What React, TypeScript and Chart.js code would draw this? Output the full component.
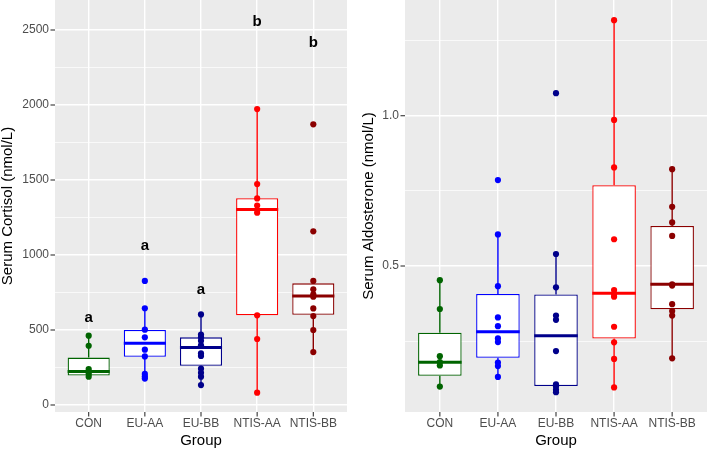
import React, { useEffect, useRef } from "react";
import { Chart, registerables } from "chart.js";

Chart.register(...registerables);

// ---------- data ----------
const groups = ["CON", "EU-AA", "EU-BB", "NTIS-AA", "NTIS-BB"];
const groupColors = ["#006400", "#0000FF", "#00008B", "#FF0000", "#8B0000"];

// Serum cortisol (nmol/L)
const cortisolPoints = [
  [462, 395, 240, 222, 207, 189],
  [827, 645, 502, 451, 369, 324, 207, 190, 176],
  [604, 470, 452, 428, 398, 344, 327, 242, 215, 189, 133],
  [1973, 1473, 1377, 1330, 1282, 598, 440, 82],
  [1871, 1158, 827, 771, 738, 722, 644, 593, 500, 353],
];
const cortisolQ1 = [196, 322, 262, 598, 602];
const cortisolMedian = [224, 411, 384, 1304, 727];
const cortisolQ3 = [316, 500, 451, 1378, 811];
const cortisolWhiskerLow = [187, 176, 133, 82, 353];
const cortisolWhiskerHigh = [462, 645, 604, 1973, 827];
const cortisolLetters = ["a", "a", "a", "b", "b"];
const cortisolLetterY = [555, 1033, 740, 2527, 2389];
const cortisolMajorTicks = [0, 500, 1000, 1500, 2000, 2500];
const cortisolMinorTicks = [250, 750, 1250, 1750, 2250];

// Serum aldosterone (nmol/L)
const aldoPoints = [
  [0.453, 0.357, 0.2, 0.18, 0.169, 0.099],
  [0.786, 0.605, 0.433, 0.329, 0.3, 0.259, 0.247, 0.179, 0.167, 0.131],
  [1.075, 0.54, 0.429, 0.335, 0.321, 0.217, 0.106, 0.099, 0.088, 0.08],
  [1.318, 0.986, 0.828, 0.589, 0.42, 0.407, 0.398, 0.298, 0.246, 0.191, 0.096],
  [0.822, 0.697, 0.645, 0.6, 0.439, 0.435, 0.373, 0.35, 0.335, 0.193],
];
const aldoQ1 = [0.135, 0.195, 0.101, 0.259, 0.356];
const aldoMedian = [0.18, 0.281, 0.268, 0.409, 0.439];
const aldoQ3 = [0.278, 0.407, 0.405, 0.769, 0.633];
const aldoWhiskerLow = [0.099, 0.131, 0.08, 0.096, 0.193];
const aldoWhiskerHigh = [0.453, 0.605, 0.54, 1.318, 0.822];
const aldoMajorTicks = [0.5, 1.0];
const aldoMajorLabels = ["0.5", "1.0"];
const aldoMinorTicks = [0.25, 0.75, 1.25];

const FONT = "'Liberation Sans', Arial, Helvetica, sans-serif";

type PanelProps = {
  width: number;
  height: number;
  points: number[][];
  q1: number[];
  median: number[];
  q3: number[];
  wLow: number[];
  wHigh: number[];
  yMin: number;
  yMax: number;
  majors: number[];
  majorLabels: string[];
  minors: number[];
  yTitle: string;
  yAxisWidth: number;
  yTitlePad: number;
  padRight: number;
  letters?: string[];
  letterY?: number[];
};

function Panel(p: PanelProps) {
  const ref = useRef<HTMLCanvasElement | null>(null);
  useEffect(() => {
    const canvas = ref.current;
    if (!canvas) return;

    const isMajor = (v: number) => p.majors.some((m) => Math.abs(m - v) < 1e-9);
    const labelFor = (v: number) => {
      const k = p.majors.findIndex((m) => Math.abs(m - v) < 1e-9);
      return k >= 0 ? p.majorLabels[k] : "";
    };

    const extras = {
      id: "boxExtras",
      beforeDraw(chart: any) {
        const { ctx, chartArea: a } = chart;
        ctx.save();
        ctx.fillStyle = "#EBEBEB";
        ctx.fillRect(a.left, a.top, a.right - a.left, a.bottom - a.top);
        ctx.restore();
      },
      beforeDatasetsDraw(chart: any) {
        const { ctx } = chart;
        const xs = chart.scales.x;
        const ys = chart.scales.y;
        ctx.save();
        ctx.lineWidth = 1.4;
        groups.forEach((_, i) => {
          const x = xs.getPixelForValue(i);
          ctx.strokeStyle = groupColors[i];
          ctx.beginPath();
          ctx.moveTo(x, ys.getPixelForValue(p.q3[i]));
          ctx.lineTo(x, ys.getPixelForValue(p.wHigh[i]));
          ctx.moveTo(x, ys.getPixelForValue(p.q1[i]));
          ctx.lineTo(x, ys.getPixelForValue(p.wLow[i]));
          ctx.stroke();
        });
        ctx.restore();
      },
      afterDatasetDraw(chart: any, args: any) {
        if (args.index !== 0) return;
        const { ctx } = chart;
        const xs = chart.scales.x;
        const ys = chart.scales.y;
        const meta = chart.getDatasetMeta(0);
        ctx.save();
        ctx.lineWidth = 3;
        groups.forEach((_, i) => {
          const x = xs.getPixelForValue(i);
          const el = meta.data[i];
          const hw = el ? el.width / 2 : 20;
          const y = ys.getPixelForValue(p.median[i]);
          ctx.strokeStyle = groupColors[i];
          ctx.beginPath();
          ctx.moveTo(x - hw, y);
          ctx.lineTo(x + hw, y);
          ctx.stroke();
        });
        ctx.restore();
      },
      afterDraw(chart: any) {
        const { ctx, chartArea: a } = chart;
        const xs = chart.scales.x;
        const ys = chart.scales.y;
        ctx.save();
        ctx.strokeStyle = "#333333";
        ctx.lineWidth = 1.1;
        p.majors.forEach((v) => {
          const y = ys.getPixelForValue(v);
          ctx.beginPath();
          ctx.moveTo(a.left - 4.5, y);
          ctx.lineTo(a.left, y);
          ctx.stroke();
        });
        groups.forEach((_, i) => {
          const x = xs.getPixelForValue(i);
          ctx.beginPath();
          ctx.moveTo(x, a.bottom);
          ctx.lineTo(x, a.bottom + 4.5);
          ctx.stroke();
        });
        if (p.letters && p.letterY) {
          ctx.fillStyle = "#000000";
          ctx.font = `bold 15px ${FONT}`;
          ctx.textAlign = "center";
          ctx.textBaseline = "alphabetic";
          p.letters.forEach((l, i) => {
            ctx.fillText(l, xs.getPixelForValue(i), ys.getPixelForValue(p.letterY![i]));
          });
        }
        ctx.restore();
      },
    };

    const datasets: any[] = [
      {
        type: "bar",
        data: groups.map((_, i) => ({ x: i, y: [p.q1[i], p.q3[i]] })),
        backgroundColor: "#FFFFFF",
        borderColor: groupColors,
        borderWidth: 1.3,
        borderSkipped: false,
        categoryPercentage: 0.75,
        barPercentage: 1,
        order: 2,
      },
      ...p.points.map((vals, i) => ({
        type: "scatter",
        data: vals.map((v) => ({ x: i, y: v })),
        backgroundColor: groupColors[i],
        borderColor: groupColors[i],
        pointRadius: 3.1,
        pointBorderWidth: 0,
        showLine: false,
        clip: false,
        order: 1,
      })),
    ];

    const yTicks = [...p.majors, ...p.minors].sort((a, b) => a - b);

    const chart = new Chart(canvas, {
      type: "bar",
      data: { datasets },
      plugins: [extras],
      options: {
        responsive: false,
        animation: false,
        events: [],
        layout: { autoPadding: false, padding: { left: 0, right: p.padRight, top: 0, bottom: 0 } },
        plugins: { legend: { display: false }, tooltip: { enabled: false } },
        scales: {
          x: {
            type: "linear",
            min: -0.6,
            max: 4.6,
            offset: false,
            afterBuildTicks: (s: any) => {
              s.ticks = groups.map((_, i) => ({ value: i }));
            },
            afterFit: (s: any) => {
              s.height = 39;
              s.paddingLeft = 0;
              s.paddingRight = 0;
            },
            grid: { color: "#FFFFFF", lineWidth: 1.4, drawTicks: false, offset: false },
            border: { display: false },
            ticks: {
              autoSkip: false,
              maxRotation: 0,
              padding: 4,
              color: "#4D4D4D",
              font: { family: FONT, size: 12 },
              callback: (v: any) => {
                const n = Math.round(Number(v));
                return groups[n] ?? "";
              },
            },
            title: {
              display: true,
              text: "Group",
              color: "#000000",
              font: { family: FONT, size: 15, lineHeight: 1 },
              padding: { top: 0, bottom: 3 },
            },
          },
          y: {
            type: "linear",
            min: p.yMin,
            max: p.yMax,
            afterBuildTicks: (s: any) => {
              s.ticks = yTicks.map((v) => ({ value: v }));
            },
            afterFit: (s: any) => {
              s.width = p.yAxisWidth;
              s.paddingTop = 0;
              s.paddingBottom = 0;
            },
            grid: {
              color: "#FFFFFF",
              drawTicks: false,
              lineWidth: (c: any) => (c.tick && isMajor(c.tick.value) ? 1.4 : 0.7),
            },
            border: { display: false },
            ticks: {
              autoSkip: false,
              padding: 6,
              color: "#4D4D4D",
              font: { family: FONT, size: 12 },
              callback: (v: any) => labelFor(Number(v)),
            },
            title: {
              display: true,
              text: p.yTitle,
              color: "#000000",
              font: { family: FONT, size: 15, lineHeight: 1 },
              padding: { top: p.yTitlePad, bottom: 0 },
            },
          },
        },
      } as any,
    });
    return () => chart.destroy();
  }, []);
  return (
    <canvas
      ref={ref}
      width={p.width}
      height={p.height}
      style={{ width: p.width, height: p.height, display: "block" }}
    />
  );
}

export default function App() {
  return (
    <div
      style={{
        position: "absolute",
        left: 0,
        top: 0,
        width: 709,
        height: 451,
        background: "#FFFFFF",
        display: "flex",
      }}
    >
      <Panel
        width={352}
        height={451}
        points={cortisolPoints}
        q1={cortisolQ1}
        median={cortisolMedian}
        q3={cortisolQ3}
        wLow={cortisolWhiskerLow}
        wHigh={cortisolWhiskerHigh}
        yMin={-46.7}
        yMax={2700}
        majors={cortisolMajorTicks}
        majorLabels={cortisolMajorTicks.map(String)}
        minors={cortisolMinorTicks}
        yTitle="Serum Cortisol (nmol/L)"
        yAxisWidth={55}
        yTitlePad={0.5}
        padRight={5}
        letters={cortisolLetters}
        letterY={cortisolLetterY}
      />
      <Panel
        width={357}
        height={451}
        points={aldoPoints}
        q1={aldoQ1}
        median={aldoMedian}
        q3={aldoQ3}
        wLow={aldoWhiskerLow}
        wHigh={aldoWhiskerHigh}
        yMin={0.0143}
        yMax={1.385}
        majors={aldoMajorTicks}
        majorLabels={aldoMajorLabels}
        minors={aldoMinorTicks}
        yTitle="Serum Aldosterone (nmol/L)"
        yAxisWidth={53}
        yTitlePad={9}
        padRight={2}
      />
    </div>
  );
}
